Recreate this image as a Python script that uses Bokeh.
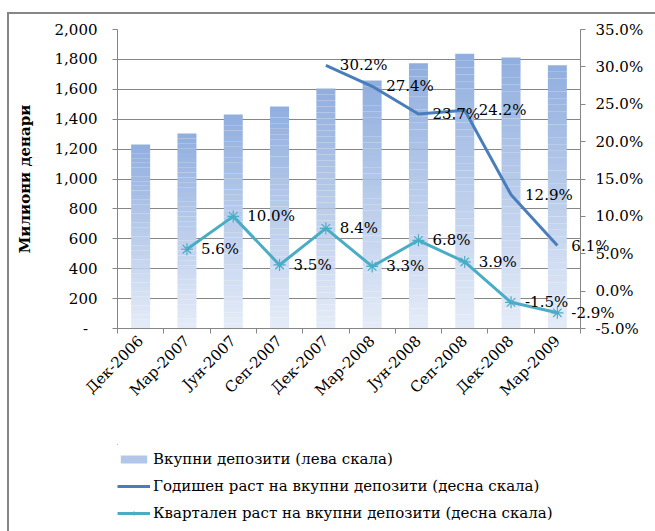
import math
from bokeh.plotting import figure
from bokeh.layouts import column
from bokeh.models import (ColumnDataSource, Range1d, LinearAxis, FixedTicker, Grid,
                          PrintfTickFormatter, NumeralTickFormatter, Legend, LegendItem)
from bokeh.core.properties import value
from bokeh.embed import file_html
from bokeh.resources import INLINE

NAN = float("nan")

# ---------------- data ----------------
categories = ["Дек-2006", "Мар-2007", "Јун-2007", "Сеп-2007", "Дек-2007",
              "Мар-2008", "Јун-2008", "Сеп-2008", "Дек-2008", "Мар-2009"]
total_deposits = [1231, 1304, 1431, 1485, 1605, 1659, 1775, 1837, 1813, 1761]
annual_growth = [NAN, NAN, NAN, NAN, 30.2, 27.4, 23.7, 24.2, 12.9, 6.1]
quarterly_growth = [NAN, 5.6, 10.0, 3.5, 8.4, 3.3, 6.8, 3.9, -1.5, -2.9]
left_ticks = [0, 200, 400, 600, 800, 1000, 1200, 1400, 1600, 1800, 2000]
right_ticks = [-5, 0, 5, 10, 15, 20, 25, 30, 35]

series_names = ["Вкупни депозити (лева скала)",
                "Годишен раст на вкупни депозити (десна скала)",
                "Квартален раст на вкупни депозити (десна скала)"]
y_title = "Милиони денари"

# ---------------- style ----------------
FONT = "DejaVu Serif"
FS = "15px"
GRAY = "#868686"
ANNUAL_COLOR = "#4A7EBB"
QUARTER_COLOR = "#4BACC6"
BAR_TOP = (144, 174, 222)
BAR_BOTTOM = (229, 236, 248)
N_SLICES = 40

n = len(categories)
xc = [i + 0.5 for i in range(n)]

# gradient bars: each bar split into slices of its own height
bx, bb, bt, bc = [], [], [], []
for i, v in enumerate(total_deposits):
    for k in range(N_SLICES):
        f = (k + 0.5) / N_SLICES
        r = round(BAR_BOTTOM[0] + (BAR_TOP[0] - BAR_BOTTOM[0]) * f)
        g = round(BAR_BOTTOM[1] + (BAR_TOP[1] - BAR_BOTTOM[1]) * f)
        b = round(BAR_BOTTOM[2] + (BAR_TOP[2] - BAR_BOTTOM[2]) * f)
        bx.append(xc[i])
        bb.append(v * k / N_SLICES)
        bt.append(v * (k + 1) / N_SLICES)
        bc.append("#%02x%02x%02x" % (r, g, b))
bar_src = ColumnDataSource(dict(x=bx, bottom=bb, top=bt, color=bc))

annual_src = ColumnDataSource(dict(x=xc, y=annual_growth))
quarter_src = ColumnDataSource(dict(x=xc, y=quarterly_growth))


def label_src(vals):
    xs, ys, ts = [], [], []
    for x, v in zip(xc, vals):
        if not math.isnan(v):
            xs.append(x)
            ys.append(v)
            ts.append("%.1f%%" % v)
    return ColumnDataSource(dict(x=xs, y=ys, t=ts))


W = 646
H1 = 430
H2 = 87
ML, MR = 108, 75
p = figure(width=W, height=H1, output_backend="svg", toolbar_location=None,
           x_range=Range1d(0, n), y_range=Range1d(left_ticks[0], left_ticks[-1]),
           min_border_left=ML, min_border_right=MR, min_border_top=15,
           min_border_bottom=H1 - 15 - 299, x_axis_type=None, y_axis_type=None)
p.outline_line_color = None
p.background_fill_color = "white"
p.border_fill_color = "white"
p.extra_y_ranges = {"pct": Range1d(right_ticks[0], right_ticks[-1])}

# axes
xaxis = LinearAxis(ticker=FixedTicker(ticks=xc, minor_ticks=list(range(n + 1))),
                   major_label_overrides={x: c for x, c in zip(xc, categories)})
xaxis.major_tick_line_color = None
xaxis.minor_tick_line_color = GRAY
xaxis.minor_tick_out = 5
xaxis.minor_tick_in = 0
xaxis.axis_line_color = GRAY
xaxis.major_label_orientation = math.pi / 4
xaxis.major_label_text_font = FONT
xaxis.major_label_text_font_size = FS
xaxis.major_label_text_color = "black"
xaxis.major_label_standoff = 4
p.add_layout(xaxis, "below")

laxis = LinearAxis(ticker=FixedTicker(ticks=left_ticks, minor_ticks=[]),
                   formatter=NumeralTickFormatter(format="0,0"),
                   major_label_overrides={0: "-\u00a0\u00a0"})
laxis.axis_line_color = GRAY
laxis.major_tick_line_color = GRAY
laxis.major_tick_out = 5
laxis.major_tick_in = 0
laxis.minor_tick_line_color = None
laxis.major_label_standoff = 15
laxis.major_label_text_font = FONT
laxis.major_label_text_font_size = FS
laxis.major_label_text_color = "black"
laxis.axis_label = y_title
laxis.axis_label_text_font = FONT
laxis.axis_label_text_font_size = FS
laxis.axis_label_text_font_style = "bold"
laxis.axis_label_text_color = "black"
laxis.axis_label_standoff = 18
p.add_layout(laxis, "left")

raxis = LinearAxis(y_range_name="pct",
                   ticker=FixedTicker(ticks=right_ticks, minor_ticks=[]),
                   formatter=PrintfTickFormatter(format="%.1f%%"))
raxis.axis_line_color = GRAY
raxis.major_tick_line_color = GRAY
raxis.major_tick_out = 5
raxis.major_tick_in = 0
raxis.minor_tick_line_color = None
raxis.major_label_standoff = 10
raxis.major_label_text_font = FONT
raxis.major_label_text_font_size = FS
raxis.major_label_text_color = "black"
p.add_layout(raxis, "right")

grid = Grid(dimension=1, ticker=laxis.ticker)
grid.grid_line_color = GRAY
grid.grid_line_width = 1
p.add_layout(grid)

# glyphs
bars = p.vbar(x="x", bottom="bottom", top="top", width=0.41, source=bar_src,
              fill_color="color", line_color=None)
annual_line = p.line(x="x", y="y", source=annual_src, y_range_name="pct",
                     line_color=ANNUAL_COLOR, line_width=3)
quarter_line = p.line(x="x", y="y", source=quarter_src, y_range_name="pct",
                      line_color=QUARTER_COLOR, line_width=3)
quarter_pts = p.scatter(x="x", y="y", source=quarter_src, y_range_name="pct",
                        marker="asterisk", size=12, line_color=QUARTER_COLOR,
                        line_width=1.2)

# data labels drawn at overlay level (not clipped at the frame edge)
for vals in (annual_growth, quarterly_growth):
    p.text(x="x", y="y", text="t", source=label_src(vals), y_range_name="pct",
           x_offset=14, text_align="left", text_baseline="middle",
           text_font=value(FONT), text_font_size=FS, text_color="black",
           level="overlay")

# legend strip below the chart; its renderers share the data but lie outside the view
p2 = figure(width=W, height=H2, output_backend="svg", toolbar_location=None,
            x_range=Range1d(20, 30), y_range=Range1d(-5000, -4000),
            min_border_left=ML, min_border_right=MR, min_border_top=0,
            min_border_bottom=0, x_axis_type=None, y_axis_type=None)
p2.extra_y_ranges = {"pct": Range1d(-100, -90)}
p2.outline_line_color = None
p2.xgrid.visible = False
p2.ygrid.visible = False
lg_bar = p2.vbar(x="x", bottom="bottom", top="top", width=0.41, source=bar_src,
                 fill_color="color", line_color=None)
lg_annual = p2.line(x="x", y="y", source=annual_src, y_range_name="pct",
                    line_color=ANNUAL_COLOR, line_width=3)
lg_q_line = p2.line(x="x", y="y", source=quarter_src, y_range_name="pct",
                    line_color=QUARTER_COLOR, line_width=3)
lg_q_pts = p2.scatter(x="x", y="y", source=quarter_src, y_range_name="pct",
                      marker="asterisk", size=12, line_color=QUARTER_COLOR,
                      line_width=1.2)

legend = Legend(items=[
    LegendItem(label=series_names[0], renderers=[lg_bar], index=int(N_SLICES * 0.6)),
    LegendItem(label=series_names[1], renderers=[lg_annual], index=5),
    LegendItem(label=series_names[2], renderers=[lg_q_line, lg_q_pts], index=5),
], location=(0, 8), orientation="vertical")
legend.background_fill_alpha = 0
legend.border_line_color = None
legend.padding = 0
legend.margin = 0
legend.spacing = 7
legend.glyph_width = 33
legend.glyph_height = 10
legend.label_height = 20
legend.label_standoff = 3
legend.label_text_font = FONT
legend.label_text_font_size = FS
legend.label_text_color = "black"
p2.add_layout(legend, "center")

layout = column(p, p2, spacing=0)
layout.styles = {"margin-left": "7px", "margin-top": "12px",
                 "border-top": "2px solid #868686", "border-left": "2px solid #868686"}

open("out.html", "w").write(file_html(layout, INLINE))
